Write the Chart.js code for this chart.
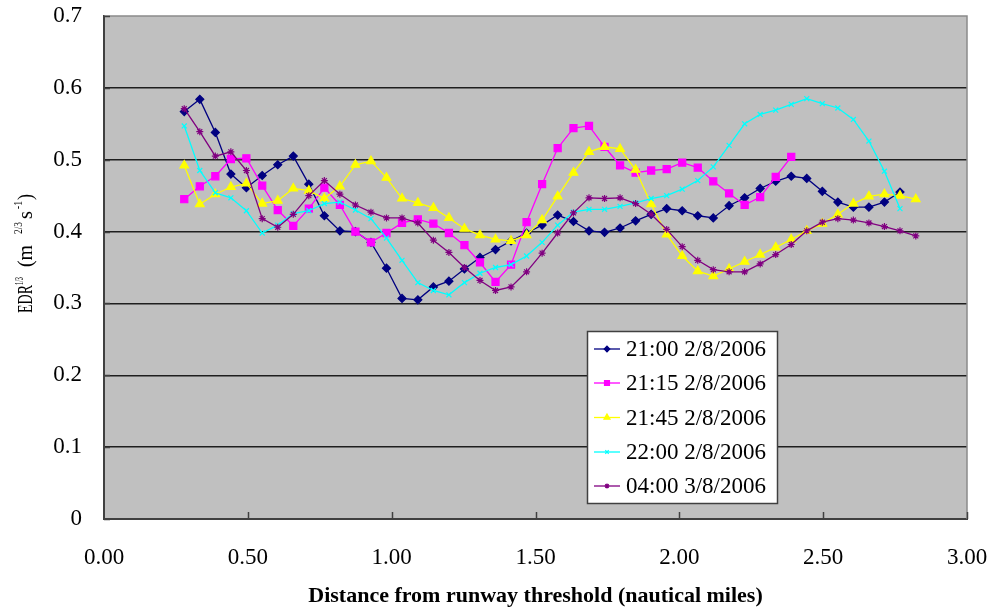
<!DOCTYPE html>
<html><head><meta charset="utf-8">
<script src="https://cdn.jsdelivr.net/npm/chart.js@4/dist/chart.umd.min.js"></script>
<style>html,body{margin:0;padding:0;background:#fff;} canvas{display:block;}</style>
</head><body>
<canvas id="c" width="990" height="612"></canvas>
<script>
// Distance from runway threshold (nautical miles)
const distance = [0.279,0.333,0.387,0.441,0.495,0.550,0.604,0.658,0.712,0.766,0.820,0.874,0.928,0.982,1.036,1.091,1.145,1.199,1.253,1.307,1.361,1.415,1.469,1.523,1.577,1.632,1.686,1.740,1.794,1.848,1.902,1.956,2.010,2.064,2.118,2.173,2.227,2.281,2.335,2.389,2.443,2.497,2.551,2.605,2.659,2.713,2.767,2.822];
const seriesNames = ['21:00 2/8/2006','21:15 2/8/2006','21:45 2/8/2006','22:00 2/8/2006','04:00 3/8/2006'];
const edr2100 = [0.567,0.584,0.538,0.480,0.461,0.478,0.493,0.505,0.466,0.422,0.401,0.400,0.385,0.349,0.307,0.305,0.323,0.331,0.348,0.364,0.375,0.387,0.398,0.409,0.423,0.414,0.401,0.399,0.405,0.415,0.424,0.432,0.429,0.422,0.419,0.436,0.447,0.460,0.470,0.477,0.474,0.456,0.441,0.434,0.434,0.441,0.455];
const edr2115 = [0.445,0.463,0.477,0.501,0.502,0.464,0.430,0.408,0.432,0.461,0.437,0.400,0.385,0.398,0.412,0.417,0.411,0.398,0.381,0.357,0.330,0.354,0.413,0.466,0.516,0.544,0.547,0.518,0.492,0.482,0.485,0.487,0.496,0.489,0.470,0.453,0.437,0.448,0.476,0.504];
const edr2145 = [0.492,0.438,0.452,0.462,0.467,0.439,0.443,0.460,0.457,0.446,0.463,0.493,0.498,0.475,0.446,0.440,0.433,0.419,0.404,0.395,0.389,0.387,0.395,0.416,0.449,0.482,0.511,0.518,0.515,0.486,0.438,0.396,0.366,0.345,0.338,0.348,0.358,0.368,0.378,0.389,0.401,0.411,0.424,0.439,0.449,0.452,0.450,0.445];
const edr2200 = [0.547,0.485,0.454,0.447,0.429,0.398,0.409,0.425,0.429,0.439,0.441,0.430,0.418,0.391,0.360,0.329,0.318,0.312,0.329,0.342,0.350,0.354,0.366,0.385,0.409,0.427,0.431,0.431,0.435,0.440,0.446,0.450,0.459,0.471,0.490,0.520,0.550,0.563,0.569,0.577,0.585,0.578,0.572,0.556,0.526,0.484,0.432];
const edr0400 = [0.571,0.539,0.505,0.511,0.485,0.418,0.406,0.424,0.450,0.471,0.452,0.437,0.427,0.419,0.419,0.412,0.388,0.371,0.350,0.332,0.318,0.323,0.344,0.370,0.398,0.426,0.447,0.446,0.447,0.439,0.424,0.403,0.379,0.360,0.347,0.344,0.344,0.355,0.368,0.382,0.401,0.413,0.418,0.416,0.412,0.407,0.401,0.394];
const xTickValues = [0, 0.5, 1.0, 1.5, 2.0, 2.5, 3.0];
const yTickValues = [0, 0.1, 0.2, 0.3, 0.4, 0.5, 0.6, 0.7];

const allValues = [edr2100, edr2115, edr2145, edr2200, edr0400];
const colors = ['#000080', '#FF00FF', '#FFFF00', '#00FFFF', '#800080'];
const styles = ['rectRot', 'rect', 'triangle', 'crossRot', 'star'];
const radii = [4, 5, 5, 3.5, 3.5];
const SERIF = '"Liberation Serif", "Times New Roman", serif';

const datasets = allValues.map((vals, k) => ({
  label: seriesNames[k],
  data: vals.map((v, i) => ({ x: distance[i], y: v })),
  borderColor: colors[k],
  backgroundColor: colors[k],
  borderWidth: 1.3,
  pointStyle: styles[k],
  pointRadius: radii[k],
  pointBorderWidth: 1.2,
  pointBorderColor: colors[k],
  pointBackgroundColor: colors[k],
  tension: 0,
  order: 4 - k
}));

function drawMarker(ctx, style, x, y, r, color) {
  ctx.save();
  ctx.fillStyle = color; ctx.strokeStyle = color; ctx.lineWidth = 1.2;
  ctx.beginPath();
  if (style === 'rectRot') {
    ctx.moveTo(x, y - r); ctx.lineTo(x + r, y); ctx.lineTo(x, y + r); ctx.lineTo(x - r, y); ctx.closePath(); ctx.fill(); ctx.stroke();
  } else if (style === 'rect') {
    const s = r * Math.SQRT1_2; ctx.rect(x - s, y - s, 2 * s, 2 * s); ctx.fill(); ctx.stroke();
  } else if (style === 'triangle') {
    ctx.moveTo(x, y - r); ctx.lineTo(x + r * 0.866, y + r * 0.5); ctx.lineTo(x - r * 0.866, y + r * 0.5); ctx.closePath(); ctx.fill(); ctx.stroke();
  } else if (style === 'crossRot') {
    const s = r * Math.SQRT1_2;
    ctx.moveTo(x - s, y - s); ctx.lineTo(x + s, y + s); ctx.moveTo(x + s, y - s); ctx.lineTo(x - s, y + s); ctx.stroke();
  } else {
    const s = r * Math.SQRT1_2;
    ctx.moveTo(x - s, y - s); ctx.lineTo(x + s, y + s); ctx.moveTo(x + s, y - s); ctx.lineTo(x - s, y + s);
    ctx.moveTo(x, y - r); ctx.lineTo(x, y + r); ctx.moveTo(x - r, y); ctx.lineTo(x + r, y); ctx.stroke();
  }
  ctx.restore();
}

const decor = {
  id: 'decor',
  beforeDraw(chart) {
    const { ctx, chartArea: a } = chart;
    ctx.save();
    ctx.fillStyle = '#ffffff'; ctx.fillRect(0, 0, chart.width, chart.height);
    ctx.fillStyle = '#C0C0C0'; ctx.fillRect(a.left, a.top, a.right - a.left, a.bottom - a.top);
    ctx.restore();
  },
  beforeDatasetsDraw(chart) {
    const { ctx, chartArea: a, scales } = chart;
    ctx.save();
    ctx.strokeStyle = '#8a8a8a'; ctx.lineWidth = 1.5;
    ctx.beginPath(); ctx.moveTo(a.left, a.top); ctx.lineTo(a.right, a.top); ctx.lineTo(a.right, a.bottom); ctx.stroke();
    ctx.strokeStyle = '#404040'; ctx.lineWidth = 1.5;
    xTickValues.forEach(v => {
      if (v === 0) return;
      const px = Math.round(scales.x.getPixelForValue(v)) + 0.5;
      ctx.beginPath(); ctx.moveTo(px, a.bottom); ctx.lineTo(px, a.bottom - 7); ctx.stroke();
    });
    yTickValues.forEach(v => {
      const py = Math.round(scales.y.getPixelForValue(v)) + 0.5;
      ctx.beginPath(); ctx.moveTo(a.left, py); ctx.lineTo(a.left + 6, py); ctx.stroke();
    });
    ctx.restore();
  },
  afterDraw(chart) {
    const { ctx, chartArea: a } = chart;
    ctx.save();
    // Legend
    const lx = 587.5, ly = 331.5, lw = 190, lh = 172;
    ctx.fillStyle = '#ffffff'; ctx.fillRect(lx, ly, lw, lh);
    ctx.strokeStyle = '#404040'; ctx.lineWidth = 1.5; ctx.strokeRect(lx, ly, lw, lh);
    const baselines = [356, 390, 424.5, 459, 493];
    ctx.font = '23px ' + SERIF; ctx.fillStyle = '#000'; ctx.textAlign = 'left'; ctx.textBaseline = 'alphabetic';
    seriesNames.forEach((n, k) => {
      const cy = baselines[k] - 7;
      ctx.strokeStyle = colors[k]; ctx.lineWidth = 1.3;
      ctx.beginPath(); ctx.moveTo(594, cy); ctx.lineTo(620, cy); ctx.stroke();
      drawMarker(ctx, styles[k], 607, cy, radii[k] * 0.7, colors[k]);
      ctx.fillStyle = '#000';
      ctx.fillText(n, 626, baselines[k]);
    });
    // X axis title
    ctx.font = 'bold 22px ' + SERIF; ctx.textAlign = 'center';
    ctx.fillText('Distance from runway threshold (nautical miles)', (a.left + a.right) / 2, 602);
    // Y axis title with superscripts, rotated
    ctx.translate(32, 313);
    ctx.rotate(-Math.PI / 2);
    ctx.textAlign = 'left';
    // [text, start offset along axis, target length, font size, raise]
    const parts = [['EDR', 0, 28, 21, 0], ['1/3', 28, 8, 12, -9], ['(m', 46, 22, 21, 0], ['2/3', 79, 12, 12, -10], ['s', 94, 8, 21, 0], ['-1', 104, 8, 12, -10], [')', 113, 6, 21, 0]];
    parts.forEach(([t, off, len, sz, dy]) => {
      ctx.save();
      ctx.font = sz + 'px ' + SERIF;
      const w = ctx.measureText(t).width;
      ctx.translate(off, dy);
      ctx.scale(len / w, 1);
      ctx.fillText(t, 0, 0);
      ctx.restore();
    });
    ctx.restore();
  }
};

new Chart(document.getElementById('c'), {
  type: 'line',
  data: { datasets },
  options: {
    responsive: false,
    devicePixelRatio: 1,
    animation: false,
    layout: { padding: { left: 0, right: 23, top: 16, bottom: 0 } },
    plugins: { legend: { display: false }, tooltip: { enabled: false }, title: { display: false } },
    scales: {
      x: {
        type: 'linear', min: 0, max: 3,
        afterBuildTicks: s => { s.ticks = xTickValues.map(v => ({ value: v })); },
        afterFit: s => { s.height = 93; s.paddingLeft = 0; s.paddingRight = 0; },
        ticks: { callback: v => Number(v).toFixed(2), color: '#000', padding: 25, maxRotation: 0, autoSkip: false, font: { family: SERIF, size: 23 } },
        grid: { display: false, drawTicks: false },
        border: { display: true, color: '#404040', width: 2 }
      },
      y: {
        type: 'linear', min: 0, max: 0.7,
        afterBuildTicks: s => { s.ticks = yTickValues.map(v => ({ value: v })); },
        afterFit: s => { s.width = 104; s.paddingTop = 0; s.paddingBottom = 0; },
        ticks: { callback: v => v === 0 ? '0' : Number(v).toFixed(1), color: '#000', padding: 22, font: { family: SERIF, size: 23 } },
        grid: { drawTicks: false, lineWidth: 1.5, color: c => (c.tick && (c.tick.value === 0 || Math.abs(c.tick.value - 0.7) < 1e-6)) ? 'rgba(0,0,0,0)' : '#1e1e1e' },
        border: { display: true, color: '#404040', width: 2 }
      }
    }
  },
  plugins: [decor]
});
</script>
</body></html>
